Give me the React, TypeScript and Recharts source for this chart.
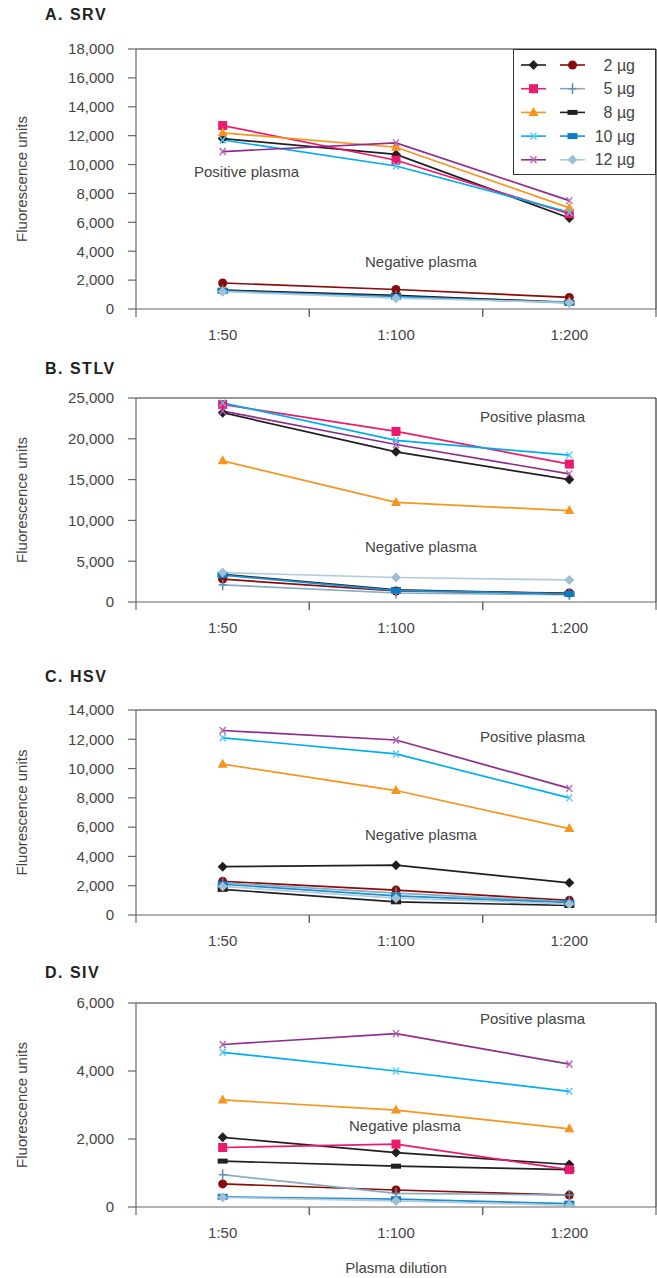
import React from 'react';
import { LineChart, Line, XAxis, YAxis, Legend, Label } from 'recharts';

const FONT = '"Liberation Sans", Arial, Helvetica, sans-serif';
const TEXT = '#444';
const AXIS = '#666';
const FRAME = '#333';

// ---------- data ----------
const dilutions = ['1:50', '1:100', '1:200'];
const doseLabels = ['2 µg', '5 µg', '8 µg', '10 µg', '12 µg'];

const srvPositive = [
  [11800, 10700, 6300],
  [12700, 10300, 6600],
  [12200, 11200, 7000],
  [11700, 9900, 6700],
  [10900, 11500, 7500],
];
const srvNegative = [
  [1800, 1350, 800],
  [1300, 900, 480],
  [1300, 950, 450],
  [1250, 850, 420],
  [1200, 750, 450],
];
const stlvPositive = [
  [23200, 18400, 15000],
  [24200, 20900, 16900],
  [17300, 12200, 11200],
  [24400, 19800, 18000],
  [23400, 19300, 15700],
];
const stlvNegative = [
  [2800, 1350, 1100],
  [2100, 1100, 900],
  [3400, 1500, 1000],
  [3300, 1400, 1000],
  [3600, 3000, 2700],
];
const hsvPositive = [
  [3300, 3400, 2200],
  [null, null, null],
  [10300, 8500, 5900],
  [12100, 11000, 8000],
  [12600, 11950, 8650],
];
const hsvNegative = [
  [2300, 1700, 1000],
  [2200, 1500, 900],
  [1750, 900, 650],
  [2100, 1300, 850],
  [1950, 1150, 750],
];
const sivPositive = [
  [2050, 1600, 1250],
  [1750, 1850, 1100],
  [3150, 2850, 2300],
  [4550, 4000, 3400],
  [4780, 5100, 4200],
];
const sivNegative = [
  [680, 500, 350],
  [950, 400, 350],
  [1350, 1200, 1100],
  [300, 230, 100],
  [280, 180, 50],
];

const srvTicks = [0, 2000, 4000, 6000, 8000, 10000, 12000, 14000, 16000, 18000];
const stlvTicks = [0, 5000, 10000, 15000, 20000, 25000];
const hsvTicks = [0, 2000, 4000, 6000, 8000, 10000, 12000, 14000];
const sivTicks = [0, 2000, 4000, 6000];

// ---------- styles ----------
type Shape = 'diamond' | 'square' | 'triangle' | 'x' | 'circle' | 'plus' | 'dash' | 'rect';
type SeriesStyle = { line: string; marker: string; shape: Shape };

const positiveStyles: SeriesStyle[] = [
  { line: '#231f20', marker: '#231f20', shape: 'diamond' },
  { line: '#ec1a6d', marker: '#ec1a6d', shape: 'square' },
  { line: '#f7941d', marker: '#f7941d', shape: 'triangle' },
  { line: '#00aeef', marker: '#55c8f2', shape: 'x' },
  { line: '#8e2d8c', marker: '#b565b3', shape: 'x' },
];
const negativeStyles: SeriesStyle[] = [
  { line: '#8b0a0a', marker: '#8b0a0a', shape: 'circle' },
  { line: '#86acc2', marker: '#5f8fab', shape: 'plus' },
  { line: '#231f20', marker: '#231f20', shape: 'dash' },
  { line: '#1b8fd2', marker: '#0a7fc8', shape: 'rect' },
  { line: '#b0cbdb', marker: '#9fbfd3', shape: 'diamond' },
];

function renderMarker(shape: Shape, cx: number, cy: number, color: string, key?: any) {
  switch (shape) {
    case 'diamond':
      return <polygon key={key} points={`${cx},${cy - 5} ${cx + 5},${cy} ${cx},${cy + 5} ${cx - 5},${cy}`} fill={color} />;
    case 'square':
      return <rect key={key} x={cx - 4.5} y={cy - 4.5} width={9} height={9} fill={color} />;
    case 'triangle':
      return <polygon key={key} points={`${cx},${cy - 5.5} ${cx + 5},${cy + 3.5} ${cx - 5},${cy + 3.5}`} fill={color} />;
    case 'x':
      return (
        <g key={key} stroke={color} strokeWidth={1.4}>
          <line x1={cx - 3} y1={cy - 3.5} x2={cx + 3} y2={cy + 3.5} />
          <line x1={cx + 3} y1={cy - 3.5} x2={cx - 3} y2={cy + 3.5} />
        </g>
      );
    case 'circle':
      return <circle key={key} cx={cx} cy={cy} r={4.5} fill={color} />;
    case 'plus':
      return (
        <g key={key} stroke={color} strokeWidth={1.5}>
          <line x1={cx} y1={cy - 5.5} x2={cx} y2={cy + 5.5} />
          <line x1={cx - 4} y1={cy} x2={cx + 4} y2={cy} />
        </g>
      );
    case 'dash':
      return <rect key={key} x={cx - 5} y={cy - 2.5} width={10} height={5} fill={color} />;
    case 'rect':
      return <rect key={key} x={cx - 5} y={cy - 3} width={10} height={6} fill={color} />;
    default:
      return null;
  }
}

const makeDot = (st: SeriesStyle) => (props: any) => {
  const { cx, cy, index } = props;
  if (cx == null || cy == null || props.value == null) return <g key={`e${index}`} />;
  return renderMarker(st.shape, cx, cy, st.marker, `d${index}`);
};

function buildRows(pos: (number | null)[][], neg: (number | null)[][]) {
  return dilutions.map((d, i) => {
    const row: Record<string, any> = { dilution: d };
    pos.forEach((s, k) => (row[`p${k}`] = s[i]));
    neg.forEach((s, k) => (row[`n${k}`] = s[i]));
    return row;
  });
}

const LegendBox = () => (
  <svg width={144} height={127} style={{ display: 'block' }}>
    <rect x={0.5} y={0.5} width={142} height={125} fill="#fff" stroke={FRAME} />
    {doseLabels.map((lab, i) => {
      const y = 16 + i * 23.7;
      const p = positiveStyles[i];
      const n = negativeStyles[i];
      return (
        <g key={lab}>
          <line x1={8} x2={33} y1={y} y2={y} stroke={p.line} strokeWidth={1.6} />
          {renderMarker(p.shape, 20.5, y, p.marker)}
          <line x1={47} x2={72} y1={y} y2={y} stroke={n.line} strokeWidth={1.6} />
          {renderMarker(n.shape, 59.5, y, n.marker)}
          <text x={122} y={y} textAnchor="end" dominantBaseline="central" fontSize={16} fill={TEXT} fontFamily={FONT}>
            {lab}
          </text>
        </g>
      );
    })}
  </svg>
);

// chart geometry
const CHART_W = 657;
const Y_AXIS_W = 136;
const RIGHT_W = 1;
const TICK_SIZE = 8;
const TICK_MARGIN = 12;

// category tick: label at the band centre, tick marks at the band edges (Excel style)
const BandTick = (p: any) => {
  const { x, y, payload } = p;
  const fallback = (CHART_W - RIGHT_W - Y_AXIS_W) / dilutions.length / 2;
  const half = payload && payload.offset > 10 ? payload.offset : fallback;
  const axisY = y - TICK_SIZE - TICK_MARGIN;
  return (
    <g>
      <line x1={x - half} x2={x - half} y1={axisY} y2={axisY + TICK_SIZE} stroke={AXIS} strokeWidth={1.2} />
      <line x1={x + half} x2={x + half} y1={axisY} y2={axisY + TICK_SIZE} stroke={AXIS} strokeWidth={1.2} />
      <text x={x} y={y} dy="0.71em" textAnchor="middle" fontSize={15} fill={TEXT} fontFamily={FONT}>
        {payload?.value}
      </text>
    </g>
  );
};

type PanelProps = {
  title: string;
  titleY: number;
  pos: (number | null)[][];
  neg: (number | null)[][];
  ticks: number[];
  plotTop: number;
  plotHeight: number;
  showLegend?: boolean;
  showXLabel?: boolean;
  posLabel: { x: number; y: number };
  negLabel: { x: number; y: number };
};

const MT = 12;

function Panel(props: PanelProps) {
  const { title, titleY, pos, neg, ticks, plotTop, plotHeight, showLegend, showXLabel, posLabel, negLabel } = props;
  const rows = buildRows(pos, neg);
  const axisH = showXLabel ? 68 : 40;
  const height = MT + 1 + plotHeight + axisH;
  const yMax = ticks[ticks.length - 1];
  const textStyle: React.CSSProperties = {
    position: 'absolute',
    fontSize: 15,
    lineHeight: '18px',
    color: TEXT,
    whiteSpace: 'nowrap',
  };
  return (
    <>
      <div
        style={{
          position: 'absolute',
          left: 45,
          top: titleY - 10,
          fontSize: 16,
          lineHeight: '20px',
          fontWeight: 700,
          letterSpacing: 1.5,
          color: '#222',
        }}
      >
        {title}
      </div>
      <div style={{ position: 'absolute', left: 0, top: plotTop - MT - 1 }}>
        <LineChart
          width={CHART_W}
          height={height}
          data={rows}
          margin={{ top: MT, right: 0, bottom: 0, left: 0 }}
          style={{ fontFamily: FONT }}
        >
          <XAxis
            xAxisId="cat"
            dataKey="dilution"
            type="category"
            scale="band"
            interval={0}
            tickSize={TICK_SIZE}
            tickMargin={TICK_MARGIN}
            height={axisH}
            axisLine={{ stroke: AXIS, strokeWidth: 1.2 }}
            tickLine={false}
            tick={<BandTick />}
            label={
              showXLabel
                ? { value: 'Plasma dilution', position: 'insideBottom', offset: 2, fill: TEXT, fontSize: 15, fontFamily: FONT }
                : undefined
            }
          />
          <XAxis
            xAxisId="frameTop"
            orientation="top"
            type="number"
            domain={[0, 1]}
            height={1}
            tick={false}
            tickLine={false}
            axisLine={{ stroke: FRAME, strokeWidth: 1.2 }}
            allowDataOverflow
          />
          <YAxis
            domain={[0, yMax]}
            ticks={ticks}
            interval={0}
            width={Y_AXIS_W}
            tickSize={8}
            tickMargin={14}
            allowDataOverflow
            axisLine={{ stroke: AXIS, strokeWidth: 1.2 }}
            tickLine={{ stroke: AXIS, strokeWidth: 1.2 }}
            tick={{ fill: TEXT, fontSize: 15, fontFamily: FONT }}
            tickFormatter={(v: number) => v.toLocaleString('en-US')}
            label={
              <Label
                content={(p: any) => {
                  const vb = p.viewBox || {};
                  const cy = (vb.y ?? 0) + (vb.height ?? 0) / 2;
                  return (
                    <text
                      x={21}
                      y={cy}
                      transform={`rotate(-90 21 ${cy})`}
                      textAnchor="middle"
                      dominantBaseline="central"
                      fontSize={15}
                      fill={TEXT}
                      fontFamily={FONT}
                    >
                      Fluorescence units
                    </text>
                  );
                }}
              />
            }
          />
          <YAxis
            yAxisId="frameRight"
            orientation="right"
            domain={[0, 1]}
            width={RIGHT_W}
            tick={false}
            tickLine={false}
            axisLine={{ stroke: FRAME, strokeWidth: 1.2 }}
            allowDataOverflow
          />
          {neg.map((_, k) => (
            <Line
              key={`n${k}`}
              xAxisId="cat"
              dataKey={`n${k}`}
              name={`Negative ${doseLabels[k]}`}
              stroke={negativeStyles[k].line}
              strokeWidth={1.7}
              dot={makeDot(negativeStyles[k])}
              activeDot={false}
              isAnimationActive={false}
              connectNulls={false}
            />
          ))}
          {pos.map((_, k) => (
            <Line
              key={`p${k}`}
              xAxisId="cat"
              dataKey={`p${k}`}
              name={`Positive ${doseLabels[k]}`}
              stroke={positiveStyles[k].line}
              strokeWidth={1.7}
              dot={makeDot(positiveStyles[k])}
              activeDot={false}
              isAnimationActive={false}
              connectNulls={false}
            />
          ))}
          {showLegend && (
            <Legend
              layout="vertical"
              align="center"
              verticalAlign="middle"
              content={() => <LegendBox />}
              wrapperStyle={{ left: 513, top: MT + 1, width: 144, height: 127, right: 'auto', bottom: 'auto' }}
            />
          )}
        </LineChart>
      </div>
      <div style={{ ...textStyle, left: posLabel.x, top: posLabel.y - 9 }}>Positive plasma</div>
      <div style={{ ...textStyle, left: negLabel.x, top: negLabel.y - 9 }}>Negative plasma</div>
    </>
  );
}

export default function App() {
  return (
    <div
      style={{
        position: 'absolute',
        left: 0,
        top: 0,
        width: 657,
        height: 1278,
        background: '#fff',
        fontFamily: FONT,
        overflow: 'hidden',
      }}
    >
      <Panel
        title="A. SRV"
        titleY={15}
        pos={srvPositive}
        neg={srvNegative}
        ticks={srvTicks}
        plotTop={49}
        plotHeight={260}
        showLegend
        posLabel={{ x: 194, y: 172 }}
        negLabel={{ x: 365, y: 262 }}
      />
      <Panel
        title="B. STLV"
        titleY={369}
        pos={stlvPositive}
        neg={stlvNegative}
        ticks={stlvTicks}
        plotTop={398}
        plotHeight={204}
        posLabel={{ x: 480, y: 417 }}
        negLabel={{ x: 365, y: 547 }}
      />
      <Panel
        title="C. HSV"
        titleY={677}
        pos={hsvPositive}
        neg={hsvNegative}
        ticks={hsvTicks}
        plotTop={710}
        plotHeight={205}
        posLabel={{ x: 480, y: 737 }}
        negLabel={{ x: 365, y: 835 }}
      />
      <Panel
        title="D. SIV"
        titleY={973}
        pos={sivPositive}
        neg={sivNegative}
        ticks={sivTicks}
        plotTop={1003}
        plotHeight={204}
        showXLabel
        posLabel={{ x: 480, y: 1019 }}
        negLabel={{ x: 349, y: 1126 }}
      />
    </div>
  );
}
